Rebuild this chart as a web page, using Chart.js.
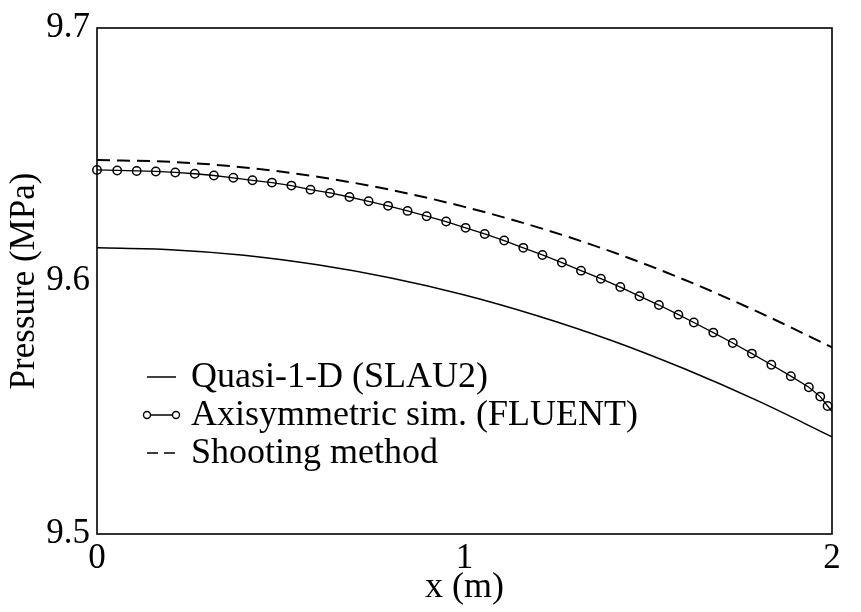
<!DOCTYPE html>
<html>
<head>
<meta charset="utf-8">
<title>Pressure along x</title>
<script src="https://cdn.jsdelivr.net/npm/chart.js@4.4.1/dist/chart.umd.min.js"></script>
<style>
    html, body { margin: 0; padding: 0; background: #fff; }
    #wrap { width: 861px; height: 612px; }
</style>
</head>
<body>
<div id="wrap"><canvas id="pressure-chart" width="861" height="612"></canvas></div>
<script>
    // x positions (m) for the two smooth curves
    var xLine = [0, 0.2, 0.4, 0.6, 0.8, 1.0, 1.2, 1.4, 1.6, 1.8, 2.0];
    // Quasi-1-D (SLAU2), MPa
    var quasiP = [9.6131, 9.6124, 9.6102, 9.6064, 9.6012, 9.5945, 9.5862, 9.5765, 9.5652, 9.5525, 9.5384];
    // Shooting method, MPa
    var shootP = [9.6478, 9.6471, 9.6449, 9.6412, 9.6360, 9.6293, 9.6212, 9.6116, 9.6004, 9.5877, 9.5738];

    // Axisymmetric sim. (FLUENT): sample positions and values
    var fluentX = [0, 0.055, 0.108, 0.160, 0.213, 0.266, 0.318, 0.371, 0.423, 0.476,
                   0.529, 0.581, 0.634, 0.687, 0.739, 0.792, 0.845, 0.897, 0.950, 1.003,
                   1.055, 1.108, 1.160, 1.212, 1.265, 1.317, 1.371, 1.424, 1.476, 1.529,
                   1.582, 1.624, 1.677, 1.730, 1.782, 1.835, 1.888, 1.937, 1.968, 1.988, 2.0];
    var fluentP = [9.6439, 9.6437, 9.6435, 9.6433, 9.6429, 9.6424, 9.6417, 9.6408, 9.6398, 9.6389,
                   9.6377, 9.6361, 9.6348, 9.6332, 9.6315, 9.6297, 9.6277, 9.6256, 9.6235, 9.6210,
                   9.6186, 9.6160, 9.6131, 9.6103, 9.6073, 9.6041, 9.6009, 9.5976, 9.5940, 9.5905,
                   9.5867, 9.5836, 9.5796, 9.5755, 9.5713, 9.5669, 9.5624, 9.5580, 9.5543, 9.5506, 9.5484];

    var xTicks = [0, 1, 2];
    var yTicks = [9.5, 9.6, 9.7];

    var seriesNames = ["Quasi-1-D (SLAU2)", "Axisymmetric sim. (FLUENT)", "Shooting method"];

    var serif = "'Liberation Serif', 'Times New Roman', serif";

    function pairs(xs, ys) {
        var out = [];
        for (var i = 0; i < xs.length; i++) {
            out.push({x: xs[i], y: ys[i]});
        }
        return out;
    }

    // no marker on the last FLUENT point (line just runs to the edge)
    var fluentRadius = fluentX.map(function (x, i) {
        return i === fluentX.length - 1 ? 0 : 4.2;
    });

    // Frame round the plot area
    var frame = {
        id: 'frame',
        afterDatasetsDraw: function (chart) {
            var a = chart.chartArea, ctx = chart.ctx;
            ctx.save();
            ctx.strokeStyle = '#000';
            ctx.lineWidth = 1.6;
            ctx.strokeRect(a.left, a.top, a.right - a.left, a.bottom - a.top);
            ctx.restore();
        }
    };

    // Legend drawn inside the plot, lower left
    var insideLegend = {
        id: 'insideLegend',
        afterDraw: function (chart) {
            var a = chart.chartArea, ctx = chart.ctx;
            var x0 = a.left + 50, x1 = a.left + 79, tx = a.left + 94;
            var y0 = 377, step = 38;
            ctx.save();
            ctx.strokeStyle = '#000';
            ctx.fillStyle = '#000';
            ctx.font = '36px ' + serif;
            ctx.textBaseline = 'middle';
            ctx.textAlign = 'left';
            for (var i = 0; i < seriesNames.length; i++) {
                var y = y0 + i * step;
                ctx.lineWidth = 1.5;
                ctx.setLineDash(i === 2 ? [11, 6] : []);
                ctx.beginPath();
                ctx.moveTo(x0, y);
                ctx.lineTo(x1, y);
                ctx.stroke();
                ctx.setLineDash([]);
                if (i === 1) {
                    ctx.lineWidth = 1.4;
                    [x0, x1].forEach(function (cx) {
                        ctx.beginPath();
                        ctx.arc(cx, y, 3.5, 0, Math.PI * 2);
                        ctx.fillStyle = '#fff';
                        ctx.fill();
                        ctx.stroke();
                    });
                    ctx.fillStyle = '#000';
                }
                ctx.fillText(seriesNames[i], tx, y + 1);
            }
            ctx.restore();
        }
    };

    var ctx1 = document.getElementById('pressure-chart').getContext('2d');
    var myChart1 = new Chart(ctx1, {
        type: 'line',
        data: {
            datasets: [{
                    label: seriesNames[0],
                    data: pairs(xLine, quasiP),
                    borderColor: '#000',
                    borderWidth: 1.5,
                    pointRadius: 0,
                    cubicInterpolationMode: 'monotone',
                    clip: false
                },
                {
                    label: seriesNames[1],
                    data: pairs(fluentX, fluentP),
                    borderColor: '#000',
                    borderWidth: 1.3,
                    pointRadius: fluentRadius,
                    pointBorderWidth: 1.5,
                    pointBorderColor: '#000',
                    pointBackgroundColor: 'rgba(0,0,0,0)',
                    tension: 0,
                    clip: false
                },
                {
                    label: seriesNames[2],
                    data: pairs(xLine, shootP),
                    borderColor: '#000',
                    borderWidth: 2,
                    borderDash: [13, 7],
                    pointRadius: 0,
                    cubicInterpolationMode: 'monotone',
                    clip: false
                }
            ]
        },
        options: {
            responsive: false,
            animation: false,
            events: [],
            layout: {
                padding: {left: 0, right: 29, top: 27, bottom: 0}
            },
            plugins: {
                legend: {display: false},
                tooltip: {enabled: false}
            },
            scales: {
                x: {
                    type: 'linear',
                    min: 0,
                    max: 2,
                    afterBuildTicks: function (axis) {
                        axis.ticks = xTicks.map(function (v) { return {value: v}; });
                    },
                    afterFit: function (axis) { axis.height = 78; },
                    grid: {display: false, drawTicks: false},
                    border: {display: false},
                    ticks: {
                        color: '#000',
                        padding: 4,
                        maxRotation: 0,
                        font: {family: serif, size: 35},
                        callback: function (v) { return String(v); }
                    },
                    title: {
                        display: true,
                        text: 'x (m)',
                        color: '#000',
                        font: {family: serif, size: 36},
                        padding: {top: 0, bottom: 3}
                    }
                },
                y: {
                    type: 'linear',
                    min: 9.5,
                    max: 9.7,
                    afterBuildTicks: function (axis) {
                        axis.ticks = yTicks.map(function (v) { return {value: v}; });
                    },
                    afterFit: function (axis) { axis.width = 97; },
                    grid: {display: false, drawTicks: false},
                    border: {display: false},
                    ticks: {
                        color: '#000',
                        padding: 7,
                        font: {family: serif, size: 35},
                        callback: function (v) { return Number(v).toFixed(1); }
                    },
                    title: {
                        display: true,
                        text: 'Pressure (MPa)',
                        color: '#000',
                        font: {family: serif, size: 35},
                        padding: {top: 4, bottom: 0}
                    }
                }
            }
        },
        plugins: [frame, insideLegend]
    });
</script>
</body>
</html>
